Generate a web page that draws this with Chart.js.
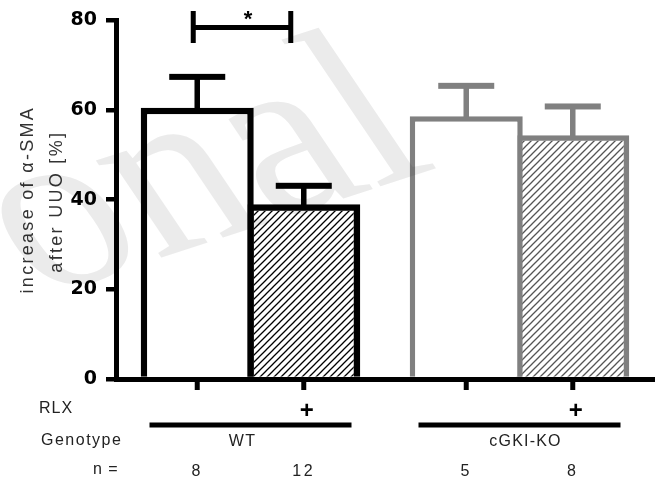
<!DOCTYPE html>
<html lang="en">
<head>
    <meta charset="UTF-8">
    <title>alpha-SMA after UUO</title>
    <style>
        html, body { margin: 0; padding: 0; background: #fff; }
        .chart-container { width: 664px; height: 488px; }
    </style>
</head>
<body>

<div class="chart-container">
    <canvas id="smaChart"></canvas>
</div>

<script src="https://cdn.jsdelivr.net/npm/chart.js"></script>
<script>
    // data
    const groups = ['WT', 'cGKI-KO'];
    const rlxMinus = [60.5, 58.6];
    const rlxPlus = [39.0, 54.4];
    const semMinus = [6.9, 6.8];
    const semPlus = [4.1, 6.4];
    const nMinus = [8, 5];
    const nPlus = [12, 8];
    const yMax = 80;
    const yStep = 20;

    const groupColor = ['#000000', '#808080'];
    const hatchColor = ['#000000', '#555555'];
    const borderW = [6.5, 5.5];

    function hatch(color) {
        const c = document.createElement('canvas');
        c.width = 7; c.height = 7;
        const g = c.getContext('2d');
        g.strokeStyle = color;
        g.lineWidth = 1.3;
        g.beginPath();
        g.moveTo(-1, 8); g.lineTo(8, -1);
        g.moveTo(-1, 1); g.lineTo(1, -1);
        g.moveTo(6, 8); g.lineTo(8, 6);
        g.stroke();
        return g.createPattern(c, 'repeat');
    }
    const patterns = hatchColor.map(hatch);

    // watermark, error bars, bracket and the table under the axis
    const extras = {
        id: 'extras',
        afterDatasetsDraw(chart) {
            const ctx = chart.ctx;
            const y = chart.scales.y;
            const sems = [semMinus, semPlus];
            ctx.save();
            chart.data.datasets.forEach((ds, di) => {
                chart.getDatasetMeta(di).data.forEach((bar, i) => {
                    const top = y.getPixelForValue(ds.data[i] + sems[di][i]);
                    ctx.fillStyle = groupColor[i];
                    ctx.fillRect(bar.x - 2.75, top, 5.5, bar.y - top + 3);
                    ctx.fillRect(bar.x - 28, top - 3, 56, 6);
                });
            });
            ctx.restore();
        },
        afterDraw(chart) {
            const ctx = chart.ctx;
            const a = chart.chartArea;
            const m0 = chart.getDatasetMeta(0).data;
            const m1 = chart.getDatasetMeta(1).data;

            ctx.save();
            // x ticks under each bar
            ctx.fillStyle = '#000';
            [m0, m1].forEach(m => m.forEach(b => ctx.fillRect(b.x - 2.5, a.bottom + 1, 5, 10)));

            // significance bracket
            const xl = m0[0].x - 4, xr = m1[0].x - 13;
            ctx.fillRect(xl - 2.5, 11, 5, 32);
            ctx.fillRect(xr - 2.5, 11, 5, 32);
            ctx.fillRect(xl, 25, xr - xl, 5);
            ctx.font = 'bold 22px "Liberation Sans"';
            ctx.textAlign = 'center';
            ctx.textBaseline = 'alphabetic';
            ctx.fillText('*', (xl + xr) / 2 + 6, 26);

            // y axis title
            ctx.fillStyle = '#333';
            ctx.font = '18px "Liberation Sans"';
            ctx.letterSpacing = '2.3px';
            ctx.save();
            ctx.translate(33, (a.top + a.bottom) / 2);
            ctx.rotate(-Math.PI / 2);
            ctx.fillText('increase of \u03b1-SMA', 0, 0);
            ctx.restore();
            ctx.save();
            ctx.translate(62, (a.top + a.bottom) / 2 + 2);
            ctx.rotate(-Math.PI / 2);
            ctx.fillText('after UUO [%]', 0, 0);
            ctx.restore();

            // table under the axis
            ctx.fillStyle = '#222';
            ctx.font = '16px "Liberation Sans"';
            ctx.letterSpacing = '1px';
            ctx.textAlign = 'left';
            ctx.fillText('RLX', 39, 413);
            ctx.letterSpacing = '1.5px';
            ctx.fillText('Genotype', 41, 445);
            ctx.letterSpacing = '1px';
            ctx.fillText('n =', 93, 474);

            ctx.textAlign = 'center';
            groups.forEach((g, i) => {
                const cx = (m0[i].x + m1[i].x) / 2;
                ctx.fillStyle = '#000';
                ctx.fillRect(cx - 101, 422.5, 202, 5);
                ctx.font = 'bold 24px "Liberation Sans"';
                ctx.letterSpacing = '0px';
                ctx.fillText('+', m1[i].x + 3, 418);
                ctx.fillStyle = '#222';
                ctx.font = '16px "Liberation Sans"';
                ctx.letterSpacing = '1.2px';
                ctx.fillText(g, cx + (i === 0 ? -8 : 6), 446);
                ctx.letterSpacing = '2.5px';
                ctx.fillText(String(nMinus[i]), m0[i].x, 476);
                ctx.fillText(String(nPlus[i]), m1[i].x, 476);
            });
            ctx.letterSpacing = '0px';

            // faint watermark, multiplied so black stays black
            ctx.globalCompositeOperation = 'multiply';
            ctx.fillStyle = '#ebebeb';
            ctx.font = '245px "Liberation Serif"';
            ctx.textAlign = 'center';
            ctx.textBaseline = 'alphabetic';
            ctx.translate(240, 232);
            ctx.rotate(-18 * Math.PI / 180);
            ctx.transform(1, 0, 0.287, 1, 0, 0);
            ctx.fillText('onal', 0, 0);
            ctx.restore();
        }
    };

    const ctx = document.getElementById('smaChart').getContext('2d');
    const chart = new Chart(ctx, {
        type: 'bar',
        data: {
            labels: groups,
            datasets: [{
                label: 'RLX -',
                data: rlxMinus,
                backgroundColor: '#ffffff',
                borderColor: c => groupColor[c.dataIndex],
                borderWidth: c => borderW[c.dataIndex]
            }, {
                label: 'RLX +',
                data: rlxPlus,
                backgroundColor: c => patterns[c.dataIndex],
                borderColor: c => groupColor[c.dataIndex],
                borderWidth: c => borderW[c.dataIndex]
            }]
        },
        options: {
            responsive: true,
            maintainAspectRatio: false,
            animation: false,
            layout: { padding: { top: 18, right: 10, left: 0, bottom: 0 } },
            categoryPercentage: 0.792,
            barPercentage: 1.061,
            plugins: {
                legend: { display: false },
                tooltip: { enabled: false }
            },
            scales: {
                x: {
                    ticks: { display: false },
                    grid: { display: false },
                    border: { color: '#000', width: 5 },
                    afterFit: s => { s.height = 109; }
                },
                y: {
                    min: 0,
                    max: yMax,
                    ticks: {
                        stepSize: yStep,
                        color: '#000',
                        padding: 9,
                        font: { family: 'DejaVu Sans', weight: 'bold', size: 19 }
                    },
                    grid: { drawOnChartArea: false, tickLength: 10, lineWidth: 4.5, color: '#000' },
                    border: { color: '#000', width: 5 },
                    afterFit: s => { s.width = 116; }
                }
            }
        },
        plugins: [extras]
    });
</script>

</body>
</html>
